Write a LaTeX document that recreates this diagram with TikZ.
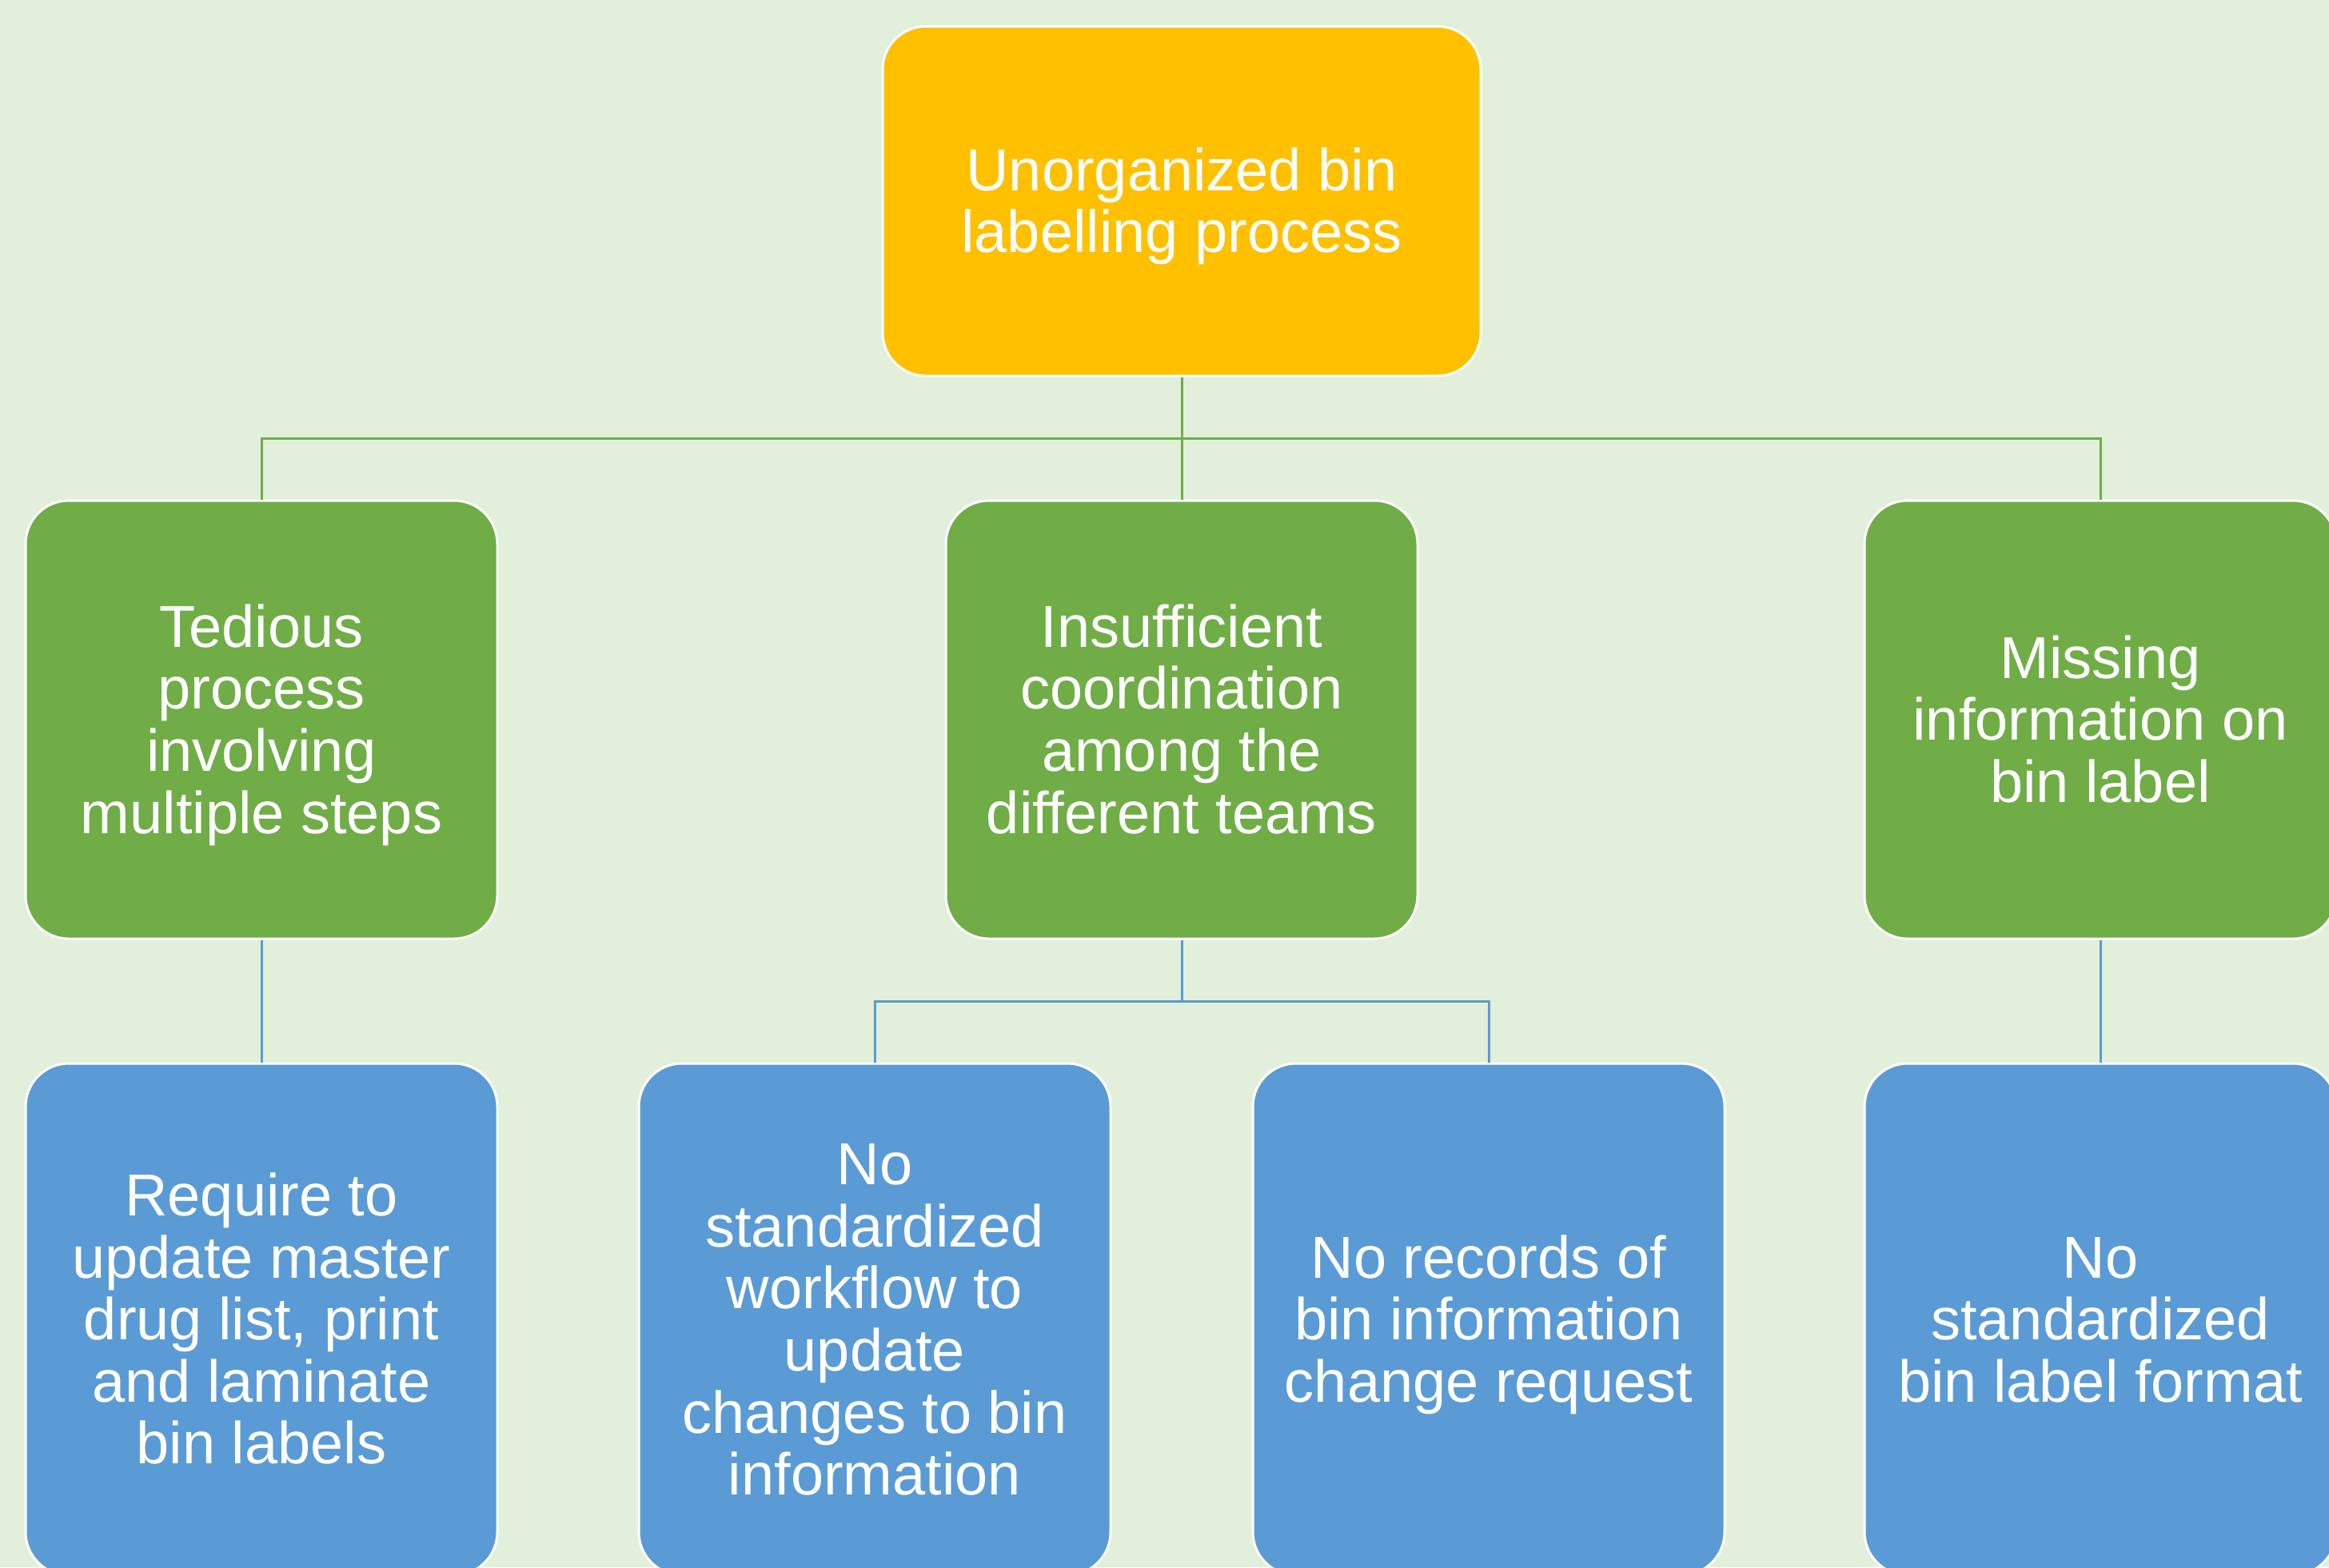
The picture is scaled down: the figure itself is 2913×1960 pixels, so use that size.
\documentclass[tikz,border=0pt]{standalone}
\usepackage{fontspec}
\setmainfont{Liberation Sans}
\definecolor{bgc}{HTML}{E2EFDA}
\definecolor{topc}{HTML}{FFC000}
\definecolor{greenc}{HTML}{70AD47}
\definecolor{bluec}{HTML}{5B9BD5}
\newcommand{\topstr}{\rule{0pt}{0.905em}}
\newcommand{\botstr}{\rule[-0.212em]{0pt}{0.5em}}
\tikzset{
  box/.style={rectangle, rounded corners=27pt, draw=white, line width=1.5pt,
    text=white, align=center, inner sep=0pt,
    font=\fontsize{37pt}{38.8pt}\selectfont},
  topbox/.style={box, fill=topc, minimum width=374pt, minimum height=218.5pt},
  greenbox/.style={box, fill=greenc, minimum width=295pt, minimum height=274pt},
  bluebox/.style={box, fill=bluec, minimum width=295pt, minimum height=320pt},
  gline/.style={draw=greenc, line width=1.5pt},
  bline/.style={draw=bluec, line width=1.5pt}
}
\begin{document}
\begin{tikzpicture}[x=0.5pt, y=-0.5pt]
\useasboundingbox (0,0) rectangle (2913,1960);
\clip (0,0) rectangle (2913,1960);
\fill[bgc] (0,0) rectangle (2913,1960);

\node[topbox] (top) at (1478,251.5) {\topstr Unorganized bin\\labelling process\botstr};

\node[greenbox] (g1) at (327,900) {\topstr Tedious\\process\\involving\\multiple steps\botstr};
\node[greenbox] (g2) at (1478,900) {\topstr Insufficient\\coordination\\among the\\different teams\botstr};
\node[greenbox] (g3) at (2627,900) {\topstr Missing\\information on\\bin label\botstr};

\node[bluebox] (b1) at (327,1650) {\topstr Require to\\update master\\drug list, print\\and laminate\\bin labels\botstr};
\node[bluebox] (b2) at (1094,1650) {\topstr No\\standardized\\workflow to\\update\\changes to bin\\information\botstr};
\node[bluebox] (b3) at (1862,1650) {\topstr No records of\\bin information\\change request\botstr};
\node[bluebox] (b4) at (2627,1650) {\topstr No\\standardized\\bin label format\botstr};

\coordinate (j1) at (1478,548);
\coordinate (j2) at (1478,1252);

\draw[gline] (top.south) -- (g2.north);
\draw[gline] (g1.north) |- (j1) -| (g3.north);

\draw[bline] (g1.south) -- (b1.north);
\draw[bline] (g2.south) -- (j2);
\draw[bline] (b2.north) |- (j2) -| (b3.north);
\draw[bline] (g3.south) -- (b4.north);
\end{tikzpicture}
\end{document}
